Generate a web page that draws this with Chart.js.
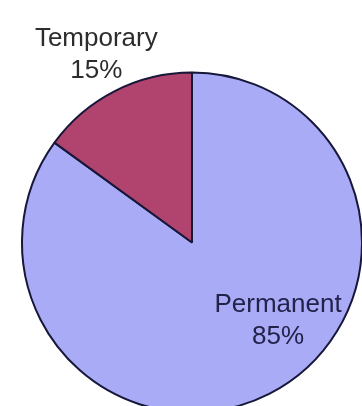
<!DOCTYPE html>
<html>
<head>
<meta charset="utf-8">
<script src="https://cdn.jsdelivr.net/npm/chart.js@4"></script>
<style>
  html, body { margin: 0; padding: 0; background: #fff; overflow: hidden; width: 362px; height: 406px; }
  #wrap { width: 364px; height: 420px; position: relative; }
</style>
</head>
<body>
<div id="wrap"><canvas id="pieChart"></canvas></div>
<script>
const categories = ['Permanent', 'Temporary'];
const shares = [85, 15];
const sliceColors = ['#a9abf6', '#b1446f'];
const labelColors = ['#22224a', '#2c2c2c'];

// where each label block sits: angle clockwise from top (deg), distance in radii
const labelAnchors = [
  { angle: 132.2, dist: 0.683 },
  { angle: -27, dist: 1.24 }
];

const sliceLabels = {
  id: 'sliceLabels',
  afterDatasetsDraw(chart) {
    const ctx = chart.ctx;
    const arcs = chart.getDatasetMeta(0).data;
    ctx.save();
    ctx.font = '26px "Liberation Sans", Arial, sans-serif';
    ctx.textAlign = 'center';
    ctx.textBaseline = 'middle';
    arcs.forEach((arc, i) => {
      const a = labelAnchors[i].angle * Math.PI / 180;
      const r = arc.outerRadius * labelAnchors[i].dist;
      const x = arc.x + Math.sin(a) * r;
      const y = arc.y - Math.cos(a) * r;
      ctx.fillStyle = labelColors[i];
      ctx.fillText(categories[i], x, y - 16);
      ctx.fillText(shares[i] + '%', x, y + 16);
    });
    ctx.restore();
  }
};

const ctx = document.getElementById('pieChart').getContext('2d');
new Chart(ctx, {
  type: 'pie',
  data: {
    labels: categories,
    datasets: [{
      data: shares,
      backgroundColor: sliceColors,
      borderColor: '#17173a',
      borderWidth: 2
    }]
  },
  options: {
    responsive: true,
    maintainAspectRatio: false,
    animation: false,
    layout: { padding: { left: 21, right: 1, top: 71, bottom: 6 } },
    plugins: {
      legend: { display: false },
      tooltip: { enabled: false }
    }
  },
  plugins: [sliceLabels]
});
</script>
</body>
</html>
